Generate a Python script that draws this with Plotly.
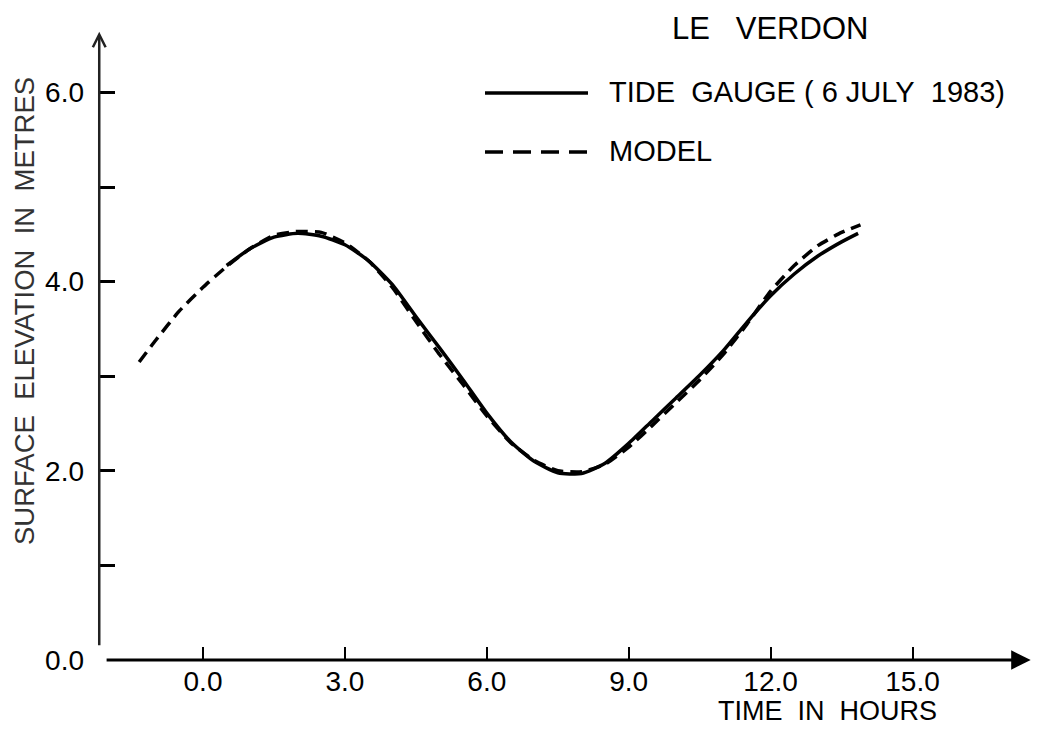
import plotly.graph_objects as go

# ---- data ----
tide_hours = [0.5, 1.0, 1.5, 2.0, 2.5, 3.0, 3.5, 4.0, 4.5, 5.0, 5.5, 6.0, 6.5, 7.0,
              7.5, 8.0, 8.5, 9.0, 9.5, 10.0, 10.5, 11.0, 11.5, 12.0, 12.5, 13.0, 13.5, 13.85]
tide_level = [4.17, 4.35, 4.47, 4.51, 4.48, 4.39, 4.22, 3.97, 3.63, 3.30, 2.96, 2.61, 2.31, 2.10,
              1.98, 1.97, 2.08, 2.29, 2.53, 2.77, 3.01, 3.27, 3.57, 3.85, 4.08, 4.27, 4.42, 4.51]

model_hours = [-1.35, -1.0, -0.5, 0.0, 0.5, 1.0, 1.5, 2.0, 2.5, 3.0, 3.5, 4.0, 4.5, 5.0, 5.5,
               6.0, 6.5, 7.0, 7.5, 8.0, 8.5, 9.0, 9.5, 10.0, 10.5, 11.0, 11.5, 12.0, 12.5,
               13.0, 13.5, 13.9]
model_level = [3.15, 3.38, 3.69, 3.94, 4.16, 4.35, 4.49, 4.53, 4.52, 4.41, 4.22, 3.94, 3.58, 3.23, 2.91,
               2.58, 2.30, 2.11, 2.00, 1.99, 2.07, 2.25, 2.48, 2.72, 2.96, 3.23, 3.55, 3.90, 4.17,
               4.38, 4.52, 4.60]

x_tick_vals = [0, 3, 6, 9, 12, 15]
x_tick_text = ["0.0", "3.0", "6.0", "9.0", "12.0", "15.0"]
y_tick_vals = [0, 1, 2, 3, 4, 5, 6]
y_tick_text = ["0.0", "", "2.0", "", "4.0", "", "6.0"]

title_text = "LE\u00a0\u00a0\u00a0VERDON"
tide_label = "TIDE\u00a0\u00a0GAUGE\u00a0(\u00a06\u00a0JULY\u00a0\u00a01983)"
model_label = "MODEL"
x_title = "TIME\u00a0\u00a0IN\u00a0\u00a0HOURS"
y_title = "SURFACE\u00a0\u00a0ELEVATION\u00a0\u00a0IN\u00a0\u00a0METRES"

FONT = "Liberation Sans, Arial, sans-serif"

# plot area geometry (pixels)
L, R, T, B = 99, 6, 27, 78
W_PX = 1040 - L - R
H_PX = 738 - T - B
X0 = -2.199
X1 = X0 + W_PX / 47.3
Y1 = H_PX / 94.6


def px_x(px):
    return (px - L) / W_PX


def px_y(py):
    return (738 - B - py) / H_PX


fig = go.Figure()
fig.add_trace(go.Scatter(x=model_hours, y=model_level, mode="lines",
                         line=dict(color="black", width=3.5, dash="12px,7px",
                                   shape="spline", smoothing=0.5),
                         showlegend=False, hoverinfo="skip"))
fig.add_trace(go.Scatter(x=tide_hours, y=tide_level, mode="lines",
                         line=dict(color="black", width=3.5, shape="spline", smoothing=0.6),
                         showlegend=False, hoverinfo="skip"))

annotations = [
    # x axis with filled arrow
    dict(x=X1 - 0.07, y=0, ax=-2.07, ay=0, xref="x", yref="y", axref="x", ayref="y",
         text="", showarrow=True, arrowhead=2, arrowsize=1.3, arrowwidth=3, arrowcolor="black"),
    # y axis with open arrow
    dict(x=X0 + 0.005, y=Y1 - 0.05, ax=X0 + 0.005, ay=0.14, xref="x", yref="y", axref="x", ayref="y",
         text="", showarrow=True, arrowhead=5, arrowsize=1.0, arrowwidth=2.5, arrowcolor="#222"),
    dict(x=px_x(670), y=px_y(29), xref="paper", yref="paper", xanchor="left", yanchor="middle",
         text=title_text, showarrow=False, font=dict(family=FONT, size=31, color="black")),
    dict(x=px_x(607), y=px_y(92), xref="paper", yref="paper", xanchor="left", yanchor="middle",
         text=tide_label, showarrow=False, font=dict(family=FONT, size=29, color="black")),
    dict(x=px_x(607), y=px_y(151), xref="paper", yref="paper", xanchor="left", yanchor="middle",
         text=model_label, showarrow=False, font=dict(family=FONT, size=29, color="black")),
    dict(x=px_x(716), y=px_y(711), xref="paper", yref="paper", xanchor="left", yanchor="middle",
         text=x_title, showarrow=False, font=dict(family=FONT, size=27, color="black")),
    dict(x=px_x(24), y=px_y(311), xref="paper", yref="paper", xanchor="center", yanchor="middle",
         text=y_title, textangle=-90, showarrow=False, font=dict(family=FONT, size=27.5, color="#333")),
]

shapes = [
    dict(type="line", xref="paper", yref="paper", x0=px_x(485), x1=px_x(588), y0=px_y(93), y1=px_y(93),
         line=dict(color="black", width=3.5)),
    dict(type="line", xref="paper", yref="paper", x0=px_x(485), x1=px_x(588), y0=px_y(152), y1=px_y(152),
         line=dict(color="black", width=3.5, dash="18px,10px")),
]

fig.update_layout(
    width=1040, height=738,
    margin=dict(l=L, r=R, t=T, b=B),
    paper_bgcolor="white", plot_bgcolor="white",
    showlegend=False,
    annotations=annotations,
    shapes=shapes,
    font=dict(family=FONT, color="black"),
    xaxis=dict(range=[X0, X1], showgrid=False, zeroline=False, showline=False,
               tickmode="array", tickvals=x_tick_vals, ticktext=x_tick_text,
               ticks="inside", ticklen=13, tickwidth=2, tickcolor="black",
               tickfont=dict(family=FONT, size=28, color="black"), ticklabelstandoff=2),
    yaxis=dict(range=[0, Y1], showgrid=False, zeroline=False, showline=False,
               tickmode="array", tickvals=y_tick_vals, ticktext=y_tick_text,
               ticks="inside", ticklen=16, tickwidth=2.5, tickcolor="black",
               tickfont=dict(family=FONT, size=28, color="black"), ticklabelstandoff=14),
)

fig.write_html("out.html")
